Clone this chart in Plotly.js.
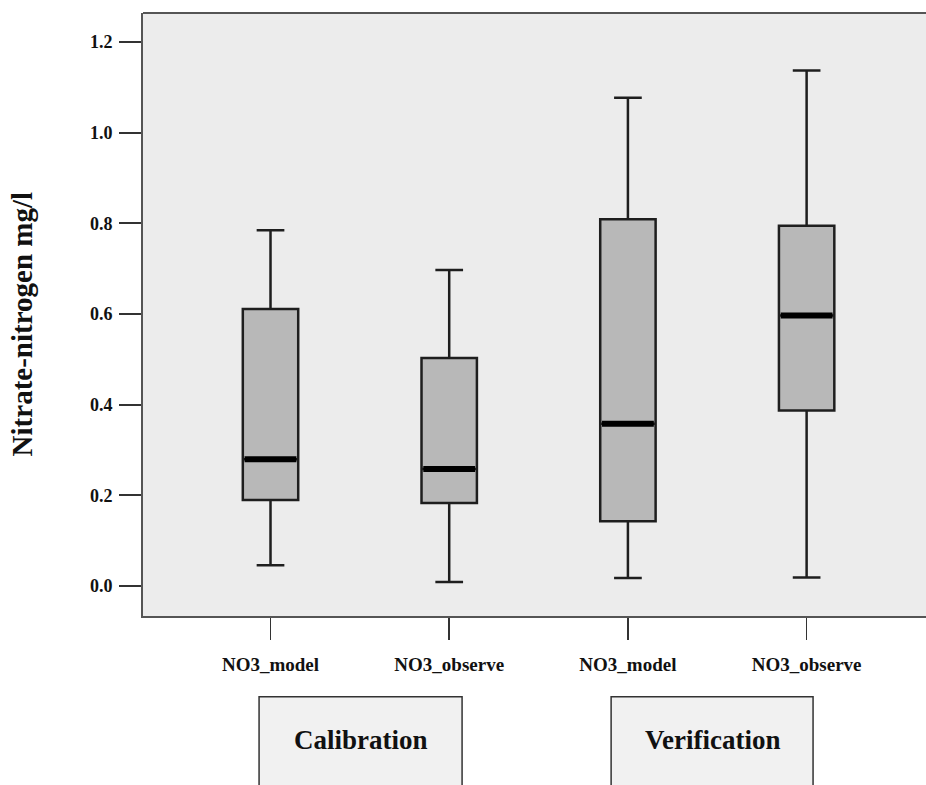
<!DOCTYPE html>
<html>
<head>
<meta charset="utf-8">
<script src="https://cdn.plot.ly/plotly-3.0.1.min.js"></script>
<style>html,body{margin:0;padding:0;background:#fff;}#chart{width:926px;height:785px;}</style>
</head>
<body>
<div id="chart"></div>
<script>
// Data
const positions = [0, 1, 2, 3];
const tickLabels = ["NO3_model", "NO3_observe", "NO3_model", "NO3_observe"];
const lowerWhisker = [0.046, 0.009, 0.018, 0.019];
const q1 = [0.190, 0.183, 0.143, 0.387];
const median = [0.280, 0.258, 0.358, 0.597];
const q3 = [0.611, 0.503, 0.809, 0.795];
const upperWhisker = [0.785, 0.697, 1.077, 1.137];
const groupNames = ["Calibration", "Verification"];
const groupSpans = [[0, 1], [2, 3]];

// Styling / layout constants
const boxWidth = 0.31;
const groupPad = [[-0.064, 0.072], [-0.094, 0.036]];
const serif = "Liberation Serif, Times New Roman, serif";

const boxTrace = {
  type: "box",
  x: positions,
  q1: q1,
  median: median,
  q3: q3,
  lowerfence: lowerWhisker,
  upperfence: upperWhisker,
  width: boxWidth,
  whiskerwidth: 0.5,
  fillcolor: "#b8b8b8",
  line: {color: "#1e1e1e", width: 2.5},
  boxpoints: false,
  hoverinfo: "skip",
  showlegend: false
};

// Thick median bars
const mx = [], my = [];
positions.forEach((p, i) => {
  mx.push(p - boxWidth / 2 + 0.01, p + boxWidth / 2 - 0.01, null);
  my.push(median[i], median[i], null);
});
const medianTrace = {
  type: "scatter", mode: "lines", x: mx, y: my,
  line: {color: "#000", width: 6},
  hoverinfo: "skip", showlegend: false
};

const shapes = [
  {type: "line", xref: "paper", yref: "paper", x0: 0, x1: 1, y0: 1, y1: 1,
   line: {color: "#555", width: 2}}
];
const annotations = [
  {xref: "paper", yref: "paper", x: -0.155, y: 0.483, text: "Nitrate-nitrogen mg/l",
   textangle: -90, showarrow: false, xanchor: "center", yanchor: "middle",
   font: {family: serif, size: 29, color: "#111", weight: "bold"}}
];
groupNames.forEach((name, g) => {
  const a = groupSpans[g][0] + groupPad[g][0], b = groupSpans[g][1] + groupPad[g][1];
  shapes.push({type: "rect", xref: "x", yref: "paper",
    x0: a, x1: b, y0: -0.4, y1: -0.134,
    fillcolor: "#f1f1f1", line: {color: "#333", width: 1.5}, layer: "above"});
  annotations.push({xref: "x", yref: "paper", x: (a + b) / 2, y: -0.206,
    text: name, showarrow: false, xanchor: "center", yanchor: "middle",
    font: {family: serif, size: 27, color: "#111", weight: "bold"}});
});

const layout = {
  width: 926, height: 785,
  margin: {l: 143, r: 0, t: 13, b: 169},
  paper_bgcolor: "#ffffff",
  plot_bgcolor: "#ececec",
  showlegend: false,
  xaxis: {
    range: [-0.7135, 3.668],
    tickmode: "array", tickvals: positions, ticktext: tickLabels,
    ticks: "outside", ticklen: 22, tickwidth: 1.5, tickcolor: "#333",
    showgrid: false, zeroline: false,
    showline: true, linecolor: "#555", linewidth: 2,
    ticklabelstandoff: 8,
    tickfont: {family: serif, size: 19, color: "#111", weight: "bold"}
  },
  yaxis: {
    range: [-0.066, 1.264],
    tickmode: "array", tickvals: [0, 0.2, 0.4, 0.6, 0.8, 1.0, 1.2],
    ticktext: ["0.0", "0.2", "0.4", "0.6", "0.8", "1.0", "1.2"],
    ticks: "outside", ticklen: 22, tickwidth: 2, tickcolor: "#333",
    showgrid: false, zeroline: false,
    showline: true, linecolor: "#555", linewidth: 2,
    ticklabelstandoff: 3,
    tickfont: {family: serif, size: 18, color: "#111", weight: "bold"}
  },
  shapes: shapes,
  annotations: annotations
};

Plotly.newPlot("chart", [boxTrace, medianTrace], layout, {displayModeBar: false, staticPlot: true});
</script>
</body>
</html>
